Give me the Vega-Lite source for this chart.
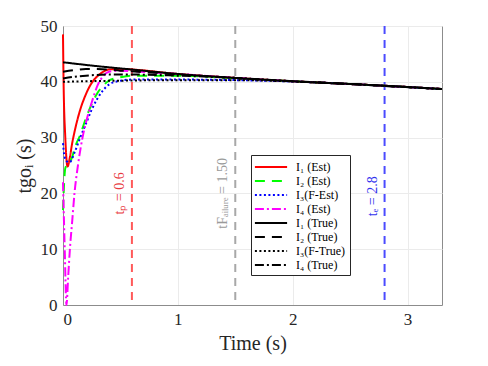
{
  "$schema": "https://vega.github.io/schema/vega-lite/v6.json",
  "width": 379,
  "height": 279,
  "autosize": {"type": "none"},
  "padding": {"left": 63, "top": 26, "right": 46, "bottom": 61},
  "config": {
    "view": {"stroke": "#8c8c8c", "strokeWidth": 1},
    "font": "Liberation Serif",
    "scale": {"continuousPadding": 0},
    "axis": {
      "domainColor": "#8c8c8c",
      "tickColor": "#8c8c8c",
      "gridColor": "#ebebeb",
      "labelColor": "#262626",
      "titleColor": "#262626",
      "labelFont": "Liberation Serif",
      "titleFont": "Liberation Serif",
      "titleFontWeight": "normal",
      "labelFontSize": 17,
      "titleFontSize": 20,
      "ticks": false
    }
  },
  "datasets": {
    "curves": [
      {"s": "I₁ (Est)", "t": 0, "y": 48.5},
      {"s": "I₁ (Est)", "t": 0.005, "y": 40},
      {"s": "I₁ (Est)", "t": 0.02, "y": 30},
      {"s": "I₁ (Est)", "t": 0.04, "y": 24.8},
      {"s": "I₁ (Est)", "t": 0.06, "y": 26.5},
      {"s": "I₁ (Est)", "t": 0.08, "y": 29},
      {"s": "I₁ (Est)", "t": 0.1, "y": 31},
      {"s": "I₁ (Est)", "t": 0.15, "y": 35},
      {"s": "I₁ (Est)", "t": 0.2, "y": 37.8},
      {"s": "I₁ (Est)", "t": 0.25, "y": 39.8},
      {"s": "I₁ (Est)", "t": 0.3, "y": 41.0},
      {"s": "I₁ (Est)", "t": 0.35, "y": 41.8},
      {"s": "I₁ (Est)", "t": 0.4, "y": 42.2},
      {"s": "I₁ (Est)", "t": 0.5, "y": 42.3},
      {"s": "I₁ (Est)", "t": 0.6, "y": 42.2},
      {"s": "I₁ (Est)", "t": 1.0, "y": 41.4},
      {"s": "I₁ (Est)", "t": 1.5, "y": 40.7},
      {"s": "I₁ (Est)", "t": 2.0, "y": 40.1},
      {"s": "I₁ (Est)", "t": 2.5, "y": 39.6},
      {"s": "I₁ (Est)", "t": 2.8, "y": 39.3},
      {"s": "I₁ (Est)", "t": 3.3, "y": 38.7},

      {"s": "I₂ (Est)", "t": 0, "y": 17},
      {"s": "I₂ (Est)", "t": 0.01, "y": 22},
      {"s": "I₂ (Est)", "t": 0.02, "y": 24.5},
      {"s": "I₂ (Est)", "t": 0.05, "y": 25.5},
      {"s": "I₂ (Est)", "t": 0.08, "y": 26.5},
      {"s": "I₂ (Est)", "t": 0.1, "y": 28},
      {"s": "I₂ (Est)", "t": 0.15, "y": 30.5},
      {"s": "I₂ (Est)", "t": 0.2, "y": 33.5},
      {"s": "I₂ (Est)", "t": 0.25, "y": 36},
      {"s": "I₂ (Est)", "t": 0.3, "y": 38},
      {"s": "I₂ (Est)", "t": 0.35, "y": 39.3},
      {"s": "I₂ (Est)", "t": 0.4, "y": 40.2},
      {"s": "I₂ (Est)", "t": 0.5, "y": 40.8},
      {"s": "I₂ (Est)", "t": 0.6, "y": 41.1},
      {"s": "I₂ (Est)", "t": 1.0, "y": 41.1},
      {"s": "I₂ (Est)", "t": 1.5, "y": 40.6},
      {"s": "I₂ (Est)", "t": 2.0, "y": 40.1},
      {"s": "I₂ (Est)", "t": 2.5, "y": 39.6},
      {"s": "I₂ (Est)", "t": 3.3, "y": 38.7},

      {"s": "I₃(F-Est)", "t": 0, "y": 29},
      {"s": "I₃(F-Est)", "t": 0.01, "y": 27},
      {"s": "I₃(F-Est)", "t": 0.03, "y": 25.8},
      {"s": "I₃(F-Est)", "t": 0.06, "y": 25.6},
      {"s": "I₃(F-Est)", "t": 0.1, "y": 27.3},
      {"s": "I₃(F-Est)", "t": 0.15, "y": 30},
      {"s": "I₃(F-Est)", "t": 0.2, "y": 32.5},
      {"s": "I₃(F-Est)", "t": 0.25, "y": 35},
      {"s": "I₃(F-Est)", "t": 0.3, "y": 37},
      {"s": "I₃(F-Est)", "t": 0.35, "y": 38.5},
      {"s": "I₃(F-Est)", "t": 0.4, "y": 39.5},
      {"s": "I₃(F-Est)", "t": 0.5, "y": 40.2},
      {"s": "I₃(F-Est)", "t": 0.6, "y": 40.4},
      {"s": "I₃(F-Est)", "t": 1.0, "y": 40.4},
      {"s": "I₃(F-Est)", "t": 1.5, "y": 40.3},
      {"s": "I₃(F-Est)", "t": 2.0, "y": 40.05},
      {"s": "I₃(F-Est)", "t": 2.5, "y": 39.6},
      {"s": "I₃(F-Est)", "t": 3.3, "y": 38.7},

      {"s": "I₄ (Est)", "t": 0, "y": 22},
      {"s": "I₄ (Est)", "t": 0.015, "y": 10},
      {"s": "I₄ (Est)", "t": 0.03, "y": 0},
      {"s": "I₄ (Est)", "t": 0.045, "y": 5},
      {"s": "I₄ (Est)", "t": 0.06, "y": 10},
      {"s": "I₄ (Est)", "t": 0.08, "y": 15},
      {"s": "I₄ (Est)", "t": 0.1, "y": 20},
      {"s": "I₄ (Est)", "t": 0.13, "y": 25},
      {"s": "I₄ (Est)", "t": 0.17, "y": 30},
      {"s": "I₄ (Est)", "t": 0.21, "y": 33.5},
      {"s": "I₄ (Est)", "t": 0.25, "y": 36.3},
      {"s": "I₄ (Est)", "t": 0.3, "y": 39.3},
      {"s": "I₄ (Est)", "t": 0.35, "y": 41},
      {"s": "I₄ (Est)", "t": 0.4, "y": 41.8},
      {"s": "I₄ (Est)", "t": 0.5, "y": 42},
      {"s": "I₄ (Est)", "t": 0.6, "y": 41.9},
      {"s": "I₄ (Est)", "t": 1.0, "y": 41.4},
      {"s": "I₄ (Est)", "t": 1.5, "y": 40.7},
      {"s": "I₄ (Est)", "t": 2.0, "y": 40.1},
      {"s": "I₄ (Est)", "t": 2.5, "y": 39.6},
      {"s": "I₄ (Est)", "t": 3.3, "y": 38.7},

      {"s": "I₁ (True)", "t": 0, "y": 43.5},
      {"s": "I₁ (True)", "t": 0.3, "y": 42.8},
      {"s": "I₁ (True)", "t": 0.6, "y": 42.2},
      {"s": "I₁ (True)", "t": 1.0, "y": 41.4},
      {"s": "I₁ (True)", "t": 1.5, "y": 40.7},
      {"s": "I₁ (True)", "t": 2.0, "y": 40.1},
      {"s": "I₁ (True)", "t": 2.5, "y": 39.6},
      {"s": "I₁ (True)", "t": 2.8, "y": 39.3},
      {"s": "I₁ (True)", "t": 3.3, "y": 38.7},

      {"s": "I₂ (True)", "t": 0, "y": 41.8},
      {"s": "I₂ (True)", "t": 0.1, "y": 42.1},
      {"s": "I₂ (True)", "t": 0.2, "y": 42.3},
      {"s": "I₂ (True)", "t": 0.3, "y": 42.3},
      {"s": "I₂ (True)", "t": 0.5, "y": 42.0},
      {"s": "I₂ (True)", "t": 0.8, "y": 41.6},
      {"s": "I₂ (True)", "t": 1.0, "y": 41.3},
      {"s": "I₂ (True)", "t": 1.3, "y": 40.95},
      {"s": "I₂ (True)", "t": 1.6, "y": 40.55},
      {"s": "I₂ (True)", "t": 2.0, "y": 40.1},
      {"s": "I₂ (True)", "t": 2.5, "y": 39.6},
      {"s": "I₂ (True)", "t": 3.3, "y": 38.7},

      {"s": "I₃(F-True)", "t": 0, "y": 40.0},
      {"s": "I₃(F-True)", "t": 0.2, "y": 40.1},
      {"s": "I₃(F-True)", "t": 0.5, "y": 40.2},
      {"s": "I₃(F-True)", "t": 1.0, "y": 40.3},
      {"s": "I₃(F-True)", "t": 1.5, "y": 40.3},
      {"s": "I₃(F-True)", "t": 2.0, "y": 40.05},
      {"s": "I₃(F-True)", "t": 2.5, "y": 39.6},
      {"s": "I₃(F-True)", "t": 3.3, "y": 38.7},

      {"s": "I₄ (True)", "t": 0, "y": 40.6},
      {"s": "I₄ (True)", "t": 0.1, "y": 40.9},
      {"s": "I₄ (True)", "t": 0.2, "y": 41.1},
      {"s": "I₄ (True)", "t": 0.4, "y": 41.3},
      {"s": "I₄ (True)", "t": 0.6, "y": 41.3},
      {"s": "I₄ (True)", "t": 1.0, "y": 41.1},
      {"s": "I₄ (True)", "t": 1.5, "y": 40.7},
      {"s": "I₄ (True)", "t": 2.0, "y": 40.1},
      {"s": "I₄ (True)", "t": 2.5, "y": 39.6},
      {"s": "I₄ (True)", "t": 3.3, "y": 38.7}
    ]
  },
  "layer": [
    {
      "data": {"values": [{"t": 0.6, "label": "tₚ = 0.6"}]},
      "layer": [
        {"mark": {"type": "rule", "color": "#ff5a5a", "strokeWidth": 2, "strokeDash": [8, 6]}, "encoding": {"x": {"field": "t", "type": "quantitative"}}},
        {"mark": {"type": "text", "angle": 270, "baseline": "bottom", "align": "center", "dy": -5, "fontSize": 14, "font": "Liberation Serif", "color": "#e8383d"},
         "encoding": {"x": {"field": "t", "type": "quantitative"}, "y": {"datum": 20}, "text": {"field": "label"}}}
      ]
    },
    {
      "data": {"values": [{"t": 1.5, "label": "tFₐᵢₗᵤᵣₑ = 1.50"}]},
      "layer": [
        {"mark": {"type": "rule", "color": "#a8a8a8", "strokeWidth": 2, "strokeDash": [8, 6]}, "encoding": {"x": {"field": "t", "type": "quantitative"}}},
        {"mark": {"type": "text", "angle": 270, "baseline": "bottom", "align": "center", "dy": -5, "fontSize": 14, "font": "Liberation Serif", "color": "#9a9a9a"},
         "encoding": {"x": {"field": "t", "type": "quantitative"}, "y": {"datum": 20}, "text": {"field": "label"}}}
      ]
    },
    {
      "data": {"values": [{"t": 2.8, "label": "tₑ = 2.8"}]},
      "layer": [
        {"mark": {"type": "rule", "color": "#4b4bff", "strokeWidth": 2, "strokeDash": [8, 6]}, "encoding": {"x": {"field": "t", "type": "quantitative"}}},
        {"mark": {"type": "text", "angle": 270, "baseline": "bottom", "align": "center", "dy": -5, "fontSize": 14, "font": "Liberation Serif", "color": "#3333ee"},
         "encoding": {"x": {"field": "t", "type": "quantitative"}, "y": {"datum": 19.5}, "text": {"field": "label"}}}
      ]
    },
    {
      "data": {"name": "curves"},
      "mark": {"type": "line", "strokeWidth": 2, "interpolate": "monotone"},
      "encoding": {
        "x": {"field": "t", "type": "quantitative", "scale": {"domain": [0, 3.3], "nice": false, "padding": 0},
              "axis": {"values": [0, 1, 2, 3], "format": "d", "title": "Time (s)", "labelPadding": 6, "titlePadding": 6, "grid": true}},
        "y": {"field": "y", "type": "quantitative", "scale": {"domain": [0, 50], "nice": false, "padding": 0},
              "axis": {"values": [0, 10, 20, 30, 40, 50], "format": "d", "title": "tgoᵢ (s)", "labelPadding": 6, "titlePadding": 6, "grid": true}},
        "color": {"field": "s", "type": "nominal",
          "scale": {"domain": ["I₁ (Est)", "I₂ (Est)", "I₃(F-Est)", "I₄ (Est)", "I₁ (True)", "I₂ (True)", "I₃(F-True)", "I₄ (True)"],
                    "range": ["#ff0000", "#00ff00", "#0000ff", "#ff00ff", "#000000", "#000000", "#000000", "#000000"]},
          "legend": {"title": null, "orient": "none", "legendX": 188, "legendY": 129, "symbolType": "M-2.3,0H2.3", "symbolSize": 196, "symbolStrokeWidth": 2, "symbolOffset": 8,
                     "labelFontSize": 12, "labelFont": "Liberation Serif", "labelColor": "#000000", "labelOffset": 17, "strokeColor": "#262626", "fillColor": "#ffffff",
                     "padding": 4, "rowPadding": -1, "cornerRadius": 0}},
        "strokeDash": {"field": "s", "type": "nominal",
          "scale": {"domain": ["I₁ (Est)", "I₂ (Est)", "I₃(F-Est)", "I₄ (Est)", "I₁ (True)", "I₂ (True)", "I₃(F-True)", "I₄ (True)"],
                    "range": [[1, 0], [10, 7], [2, 2.5], [9, 3, 2, 3], [1, 0], [10, 7], [2, 2.5], [9, 3, 2, 3]]},
          "legend": {"title": null, "orient": "none", "legendX": 188, "legendY": 129, "symbolType": "M-2.3,0H2.3", "symbolSize": 196, "symbolStrokeWidth": 2, "symbolOffset": 8,
                     "labelFontSize": 12, "labelFont": "Liberation Serif", "labelColor": "#000000", "labelOffset": 17, "strokeColor": "#262626", "fillColor": "#ffffff",
                     "padding": 4, "rowPadding": -1, "cornerRadius": 0}}
      }
    }
  ]
}
